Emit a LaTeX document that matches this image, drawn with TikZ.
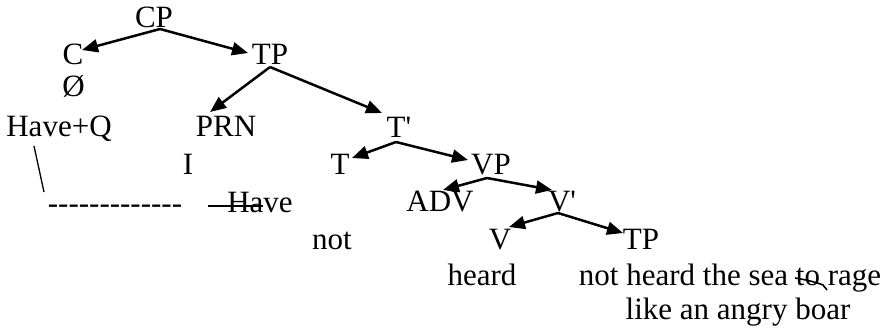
\documentclass[tikz,border=0pt]{standalone}
\usepackage{fontspec}
\setmainfont{Liberation Serif}[Ligatures=TeXOff]
\usetikzlibrary{arrows.meta}
\begin{document}
\begin{tikzpicture}[x=1pt,y=-1pt,
  lbl/.style={anchor=base,inner sep=0pt,font=\fontsize{31}{36}\selectfont},
  arr/.style={line width=2.5pt,-{Triangle[length=16pt,width=13pt]}},
  strk/.style={line width=1.6pt}]
\useasboundingbox (0,0) rectangle (893,331);
% nodes
\node[lbl] (CP) at (154,28) {CP};
\node[lbl] (C) at (73,65) {C};
\node[lbl] (null) at (73.5,97) {Ø};
\node[lbl] (TP) at (270,65) {TP};
\node[lbl] (haveq) at (59,137) {Have+Q};
\node[lbl] (PRN) at (226,137) {PRN};
\node[lbl] (I) at (188,175) {I};
\node[lbl] (Tbar) at (399,138) {T'};
\node[lbl] (T) at (340,175) {T};
\node[lbl] (VP) at (491,175) {VP};
\node[lbl] (dash) at (115,213) {-------------};
\node[lbl] (have) at (260,212) {Have};
\node[lbl] (ADV) at (440,211) {ADV};
\node[lbl] (Vbar) at (562,211) {V'};
\node[lbl] (not) at (332,249) {not};
\node[lbl] (V) at (500,249) {V};
\node[lbl] (TP2) at (641,249) {TP};
\node[lbl] (heard) at (482,285) {heard};
\node[lbl] (line1) at (730,285) {not heard the sea to rage};
\node[lbl] (line2) at (738,319) {like an angry boar};
% connector end points
\coordinate (cpb) at (160,29);
\coordinate (ctip) at (82,50);
\coordinate (tptip) at (248,53);
\coordinate (tpb) at (270,67);
\coordinate (prntip) at (210,112);
\coordinate (tbartip) at (382,113);
\coordinate (tbarb) at (396,142);
\coordinate (ttip) at (352,158);
\coordinate (vptip) at (468,160);
\coordinate (vpb) at (487,178);
\coordinate (advtip) at (443,190);
\coordinate (vbartip) at (552,190);
\coordinate (vbarb) at (558,213);
\coordinate (vtip) at (509,227);
\coordinate (tp2tip) at (623,233);
\coordinate (slasha) at (34,146);
\coordinate (slashb) at (44,192);
% arrows
\draw[arr] (cpb) -- (ctip);
\draw[arr] (cpb) -- (tptip);
\draw[arr] (tpb) -- (prntip);
\draw[arr] (tpb) -- (tbartip);
\draw[arr] (tbarb) -- (ttip);
\draw[arr] (tbarb) -- (vptip);
\draw[arr] (vpb) -- (advtip);
\draw[arr] (vpb) -- (vbartip);
\draw[arr] (vbarb) -- (vtip);
\draw[arr] (vbarb) -- (tp2tip);
% slash and strikes
\draw[line width=1.3pt] (slasha) -- (slashb);
\draw[strk] (208,206) -- (263,206);
\draw[strk] (795,278) .. controls (808,280) and (818,283) .. (823,285) -- (827,290);
\end{tikzpicture}
\end{document}
